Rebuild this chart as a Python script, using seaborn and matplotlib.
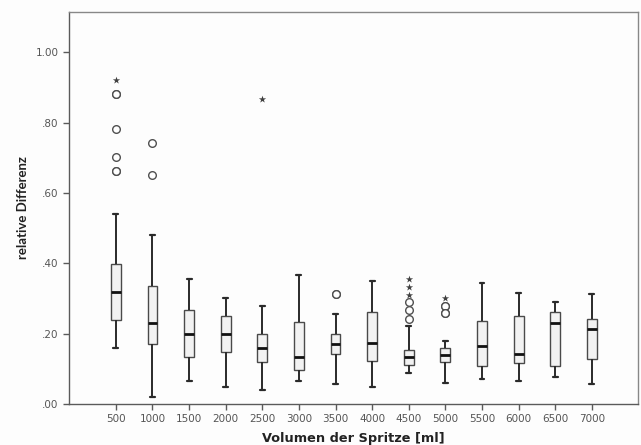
import numpy as np
import pandas as pd
import matplotlib
matplotlib.use("Agg")
import matplotlib.pyplot as plt
import seaborn as sns

# categories on the x axis (syringe volume in ml)
volumes = ["500", "1000", "1500", "2000", "2500", "3000", "3500",
           "4000", "4500", "5000", "5500", "6000", "6500", "7000"]

# box statistics
whisker_low = [0.159, 0.019, 0.066, 0.049, 0.039, 0.066, 0.056,
               0.049, 0.089, 0.059, 0.071, 0.065, 0.076, 0.056]
q1 = [0.239, 0.170, 0.133, 0.149, 0.118, 0.098, 0.141,
      0.123, 0.111, 0.118, 0.108, 0.116, 0.107, 0.129]
median = [0.319, 0.229, 0.199, 0.199, 0.159, 0.133, 0.171,
          0.174, 0.134, 0.140, 0.164, 0.141, 0.230, 0.214]
q3 = [0.398, 0.335, 0.266, 0.249, 0.199, 0.233, 0.199,
      0.261, 0.154, 0.159, 0.235, 0.249, 0.261, 0.242]
whisker_high = [0.540, 0.481, 0.354, 0.300, 0.279, 0.366, 0.257,
                0.350, 0.222, 0.179, 0.345, 0.316, 0.291, 0.314]

# outliers (o) and extreme values (*)
circle_vol = ["500", "500", "500", "500", "500", "500", "1000", "1000",
              "3500", "3500", "4500", "4500", "4500", "5000", "5000", "5000", "5000"]
circle_val = [0.881, 0.881, 0.781, 0.701, 0.661, 0.661, 0.741, 0.652,
              0.314, 0.314, 0.289, 0.266, 0.243, 0.279, 0.279, 0.259, 0.259]
star_vol = ["500", "2500", "4500", "4500", "4500", "5000"]
star_val = [0.920, 0.866, 0.355, 0.332, 0.311, 0.300]

yticks = [0.0, 0.2, 0.4, 0.6, 0.8, 1.0]
ytick_labels = [".00", ".20", ".40", ".60", ".80", "1.00"]

# five points per box -> quartiles land exactly on the read values
rows = []
for i, v in enumerate(volumes):
    for val in (whisker_low[i], q1[i], median[i], q3[i], whisker_high[i]):
        rows.append({"Volumen": v, "Differenz": val})
df = pd.DataFrame(rows)
circles = pd.DataFrame({"Volumen": circle_vol, "Differenz": circle_val})
stars = pd.DataFrame({"Volumen": star_vol, "Differenz": star_val})

sns.set_style("white")
fig = plt.figure(figsize=(6.41, 4.45), dpi=100)
fig.patch.set_facecolor("#fdfdfd")
ax = fig.add_axes([0.1076, 0.0921, 0.8877, 0.8809])
ax.set_facecolor("#fdfdfd")

sns.boxplot(data=df, x="Volumen", y="Differenz", order=volumes, ax=ax,
            whis=(0, 100), width=0.27, color="#f2f2f2", linecolor="#4a4a4a",
            linewidth=1.0, showfliers=False,
            medianprops=dict(color="#111111", linewidth=2.0),
            whiskerprops=dict(color="#2a2a2a", linewidth=1.4),
            capprops=dict(color="#2a2a2a", linewidth=1.6))

sns.stripplot(data=circles, x="Volumen", y="Differenz", order=volumes, ax=ax,
              jitter=False, marker="o", size=5.5, color="white",
              edgecolor="#505050", linewidth=1.0, zorder=5)
sns.stripplot(data=stars, x="Volumen", y="Differenz", order=volumes, ax=ax,
              jitter=False, marker="*", size=5.5, color="#404040",
              linewidth=0, zorder=5)

ax.set_xlim(-1.28, 14.26)
ax.set_ylim(0, 1.114)
ax.set_yticks(yticks)
ax.set_yticklabels(ytick_labels)

for side in ["left", "bottom", "top", "right"]:
    ax.spines[side].set_visible(True)
    ax.spines[side].set_color("#5a5a5a")
    ax.spines[side].set_linewidth(1.0)
ax.spines["top"].set_color("#888888")
ax.spines["right"].set_color("#888888")

ax.tick_params(axis="both", which="major", direction="out", length=4,
               width=1.0, color="#5a5a5a", labelsize=7.5, labelcolor="#555555",
               left=True, bottom=True)

ax.set_xlabel("Volumen der Spritze [ml]", fontsize=9.3, fontweight="bold",
              color="#222222")
ax.set_ylabel("relative Differenz", fontsize=9.5, fontweight="bold",
              family="Lato", color="#222222")
ax.xaxis.set_label_coords(0.5, -0.087)
ax.xaxis.label.set_va("center")
ax.yaxis.set_label_coords(-0.081, 0.5)
ax.yaxis.label.set_va("center")

plt.savefig("out.png", dpi=100, facecolor=fig.get_facecolor())
